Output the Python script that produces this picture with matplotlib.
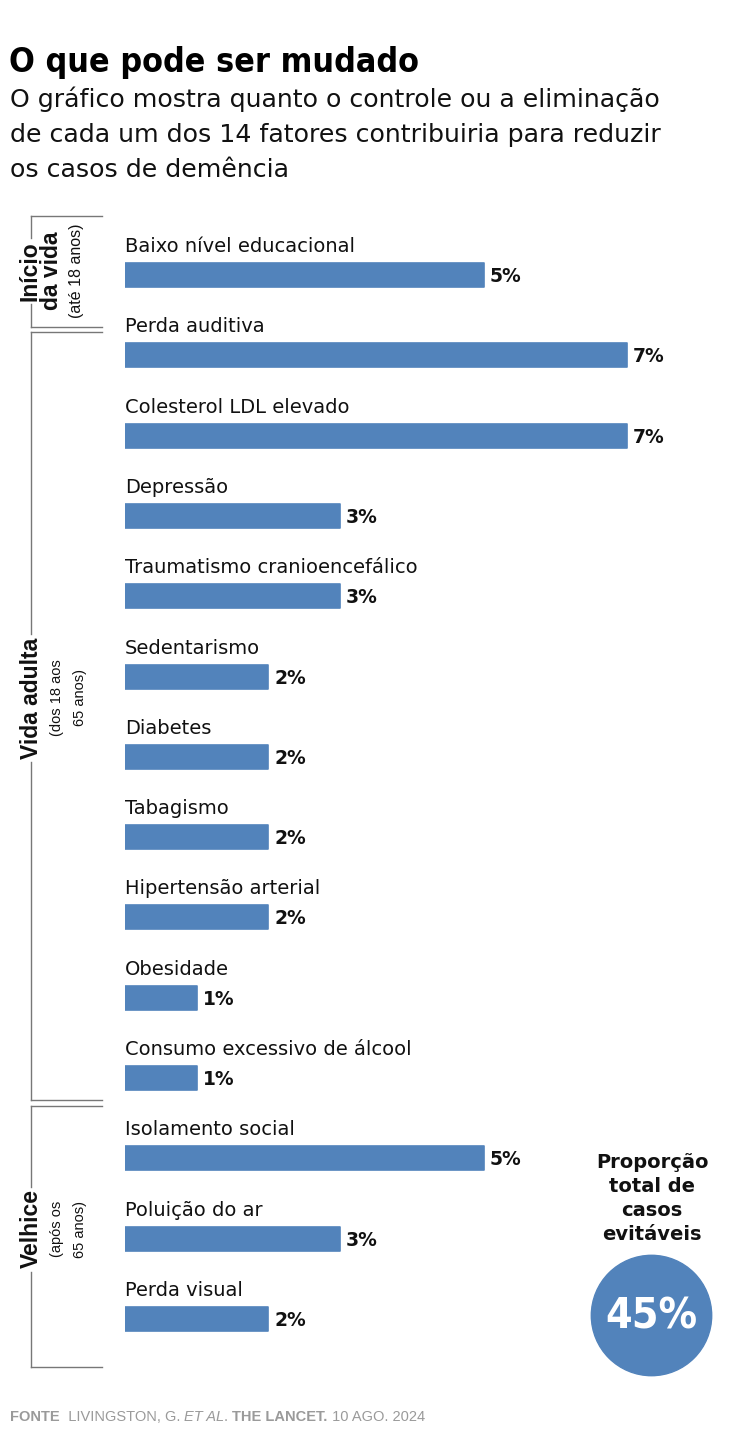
import matplotlib
matplotlib.use("Agg")
import matplotlib.pyplot as plt
from matplotlib import font_manager as fm
from matplotlib.patches import Circle
from matplotlib.lines import Line2D

# ---------------- data ----------------
categories = [
    "Baixo nível educacional",
    "Perda auditiva",
    "Colesterol LDL elevado",
    "Depressão",
    "Traumatismo cranioencefálico",
    "Sedentarismo",
    "Diabetes",
    "Tabagismo",
    "Hipertensão arterial",
    "Obesidade",
    "Consumo excessivo de álcool",
    "Isolamento social",
    "Poluição do ar",
    "Perda visual",
]
values = [5, 7, 7, 3, 3, 2, 2, 2, 2, 1, 1, 5, 3, 2]
group_titles = [["Início", "da vida"], ["Vida adulta"], ["Velhice"]]
group_notes = [["(até 18 anos)"], ["(dos 18 aos", "65 anos)"], ["(após os", "65 anos)"]]
total_label = "45%"
side_lines = ["Proporção", "total de", "casos", "evitáveis"]
title = "O que pode ser mudado"
subtitle = ["O gráfico mostra quanto o controle ou a eliminação",
            "de cada um dos 14 fatores contribuiria para reduzir",
            "os casos de demência"]
footer = [("FONTE", "bold", "normal"), ("  LIVINGSTON, G. ", "normal", "normal"),
          ("ET AL", "normal", "italic"), (". ", "normal", "normal"),
          ("THE LANCET.", "bold", "normal"), (" 10 AGO. 2024", "normal", "normal")]

# ---------------- style ----------------
W, H = 736, 1430
BLUE = "#5283bb"
INK = "#111111"
LINE = "#777777"
GREY = "#9a9a9a"
SANS = "DejaVu Sans"
ARIAL = "Liberation Sans"


def has_font(prop):
    try:
        return fm.findfont(prop, fallback_to_default=False)
    except Exception:
        return None


cond_prop = None
for cand in [fm.FontProperties(family="Liberation Sans Narrow", weight="bold"),
             fm.FontProperties(family="DejaVu Sans", stretch="condensed", weight="bold")]:
    p = has_font(cand)
    if p and ("Narrow" in p or "Condensed" in p):
        cond_prop = fm.FontProperties(fname=p)
        break
if cond_prop is None:
    cond_prop = fm.FontProperties(family="DejaVu Sans", weight="bold")

fig = plt.figure(figsize=(W / 100, H / 100), dpi=100)
fig.patch.set_facecolor("white")


def fx(x):
    return x / W


def fy(y):
    return 1 - y / H


# ---------------- bars axes ----------------
X0 = 125.0
PX_PER_PCT = 71.7
Y0 = 275.0
STEP = 80.3
ax = fig.add_axes([fx(X0), 0, (W - X0) / W, 1])
ax.set_xlim(0, (W - X0) / PX_PER_PCT)
ax.set_ylim((H - Y0) / STEP, -Y0 / STEP)
ax.axis("off")

pos = list(range(len(categories)))
bars = ax.barh(pos, values, height=24.0 / STEP, color=BLUE, edgecolor=BLUE,
               linewidth=1.2)
for b in bars:
    b.set_joinstyle("round")

for i, (c, v) in enumerate(zip(categories, values)):
    ax.annotate(c, xy=(0, i), xytext=(0, 23), textcoords="offset pixels",
                ha="left", va="baseline", fontsize=14, family=SANS, color=INK)
    ax.annotate(f"{v}%", xy=(v, i), xytext=(6, -7), textcoords="offset pixels",
                ha="left", va="baseline", fontsize=13.5, family=SANS,
                fontweight="bold", color=INK)

# ---------------- title / subtitle ----------------
t_title = fig.text(fx(9), fy(72), title, fontproperties=cond_prop, fontsize=40,
                   color="black", ha="left", va="baseline")
subs = []
for k, line in enumerate(subtitle):
    subs.append(fig.text(fx(10), fy(107 + 35 * k), line, family=SANS, fontsize=16,
                         color=INK, ha="left", va="baseline"))

# ---------------- group brackets ----------------
groups = [
    dict(top=216, bot=327, yc=271, titles=group_titles[0], tx=[30, 51],
         notes=group_notes[0], nx=[76], nfs=11.5),
    dict(top=332, bot=1100, yc=698, titles=group_titles[1], tx=[31],
         notes=group_notes[1], nx=[57, 80], nfs=10.5),
    dict(top=1106, bot=1367, yc=1229, titles=group_titles[2], tx=[31],
         notes=group_notes[2], nx=[57, 80], nfs=10.5),
]
gtexts = []
for g in groups:
    first = None
    for s, x in zip(g["titles"], g["tx"]):
        t = fig.text(fx(x), fy(g["yc"]), s, rotation=90, ha="center", va="center",
                     family=ARIAL, fontweight="bold", fontsize=16.5, color=INK)
        if first is None:
            first = t
    for s, x in zip(g["notes"], g["nx"]):
        fig.text(fx(x), fy(g["yc"]), s, rotation=90, ha="center", va="center",
                 family=ARIAL, fontsize=g["nfs"], color=INK)
    gtexts.append(first)
    for yy in (g["top"], g["bot"]):
        fig.add_artist(Line2D([fx(31), fx(102)], [fy(yy), fy(yy)],
                              transform=fig.transFigure, color=LINE, lw=1.0))

# ---------------- total circle ----------------
cax = fig.add_axes([fx(591), fy(1376), 121 / W, 121 / H])
cax.set_xlim(-1, 1)
cax.set_ylim(-1, 1)
cax.axis("off")
cax.add_patch(Circle((0, 0), 0.995, color=BLUE, clip_on=False))
t45 = cax.text(0, -0.02, total_label, ha="center", va="center", color="white",
               fontproperties=cond_prop, fontsize=40)
for k, s in enumerate(side_lines):
    fig.text(fx(652), fy(1168 + 24 * k), s, ha="center", va="baseline",
             family=SANS, fontweight="bold", fontsize=14, color=INK)

# ---------------- fit sizes ----------------
fig.canvas.draw()
r = fig.canvas.get_renderer()


def fit(t, target):
    bb = t.get_window_extent(r)
    t.set_fontsize(t.get_fontsize() * target / bb.width)


fit(t_title, 410)
fit(subs[0], 653)
for s in subs[1:]:
    s.set_fontsize(subs[0].get_fontsize())
fit(t45, 92)

# vertical bracket lines with gaps around the labels
for g, t in zip(groups, gtexts):
    bb = t.get_window_extent(r)
    g_top = H - bb.y1 - 3
    g_bot = H - bb.y0 + 3
    fig.add_artist(Line2D([fx(31), fx(31)], [fy(g["top"]), fy(g_top)],
                          transform=fig.transFigure, color=LINE, lw=1.0))
    fig.add_artist(Line2D([fx(31), fx(31)], [fy(g_bot), fy(g["bot"])],
                          transform=fig.transFigure, color=LINE, lw=1.0))

# ---------------- footer ----------------
xcur = 10
for s, wgt, sty in footer:
    t = fig.text(fx(xcur), fy(1421), s, ha="left", va="baseline", family=ARIAL,
                 fontsize=10.5, fontweight=wgt, fontstyle=sty, color=GREY)
    fig.canvas.draw()
    bb = t.get_window_extent(fig.canvas.get_renderer())
    xcur = bb.x1

fig.savefig("out.png", dpi=100, facecolor="white")
